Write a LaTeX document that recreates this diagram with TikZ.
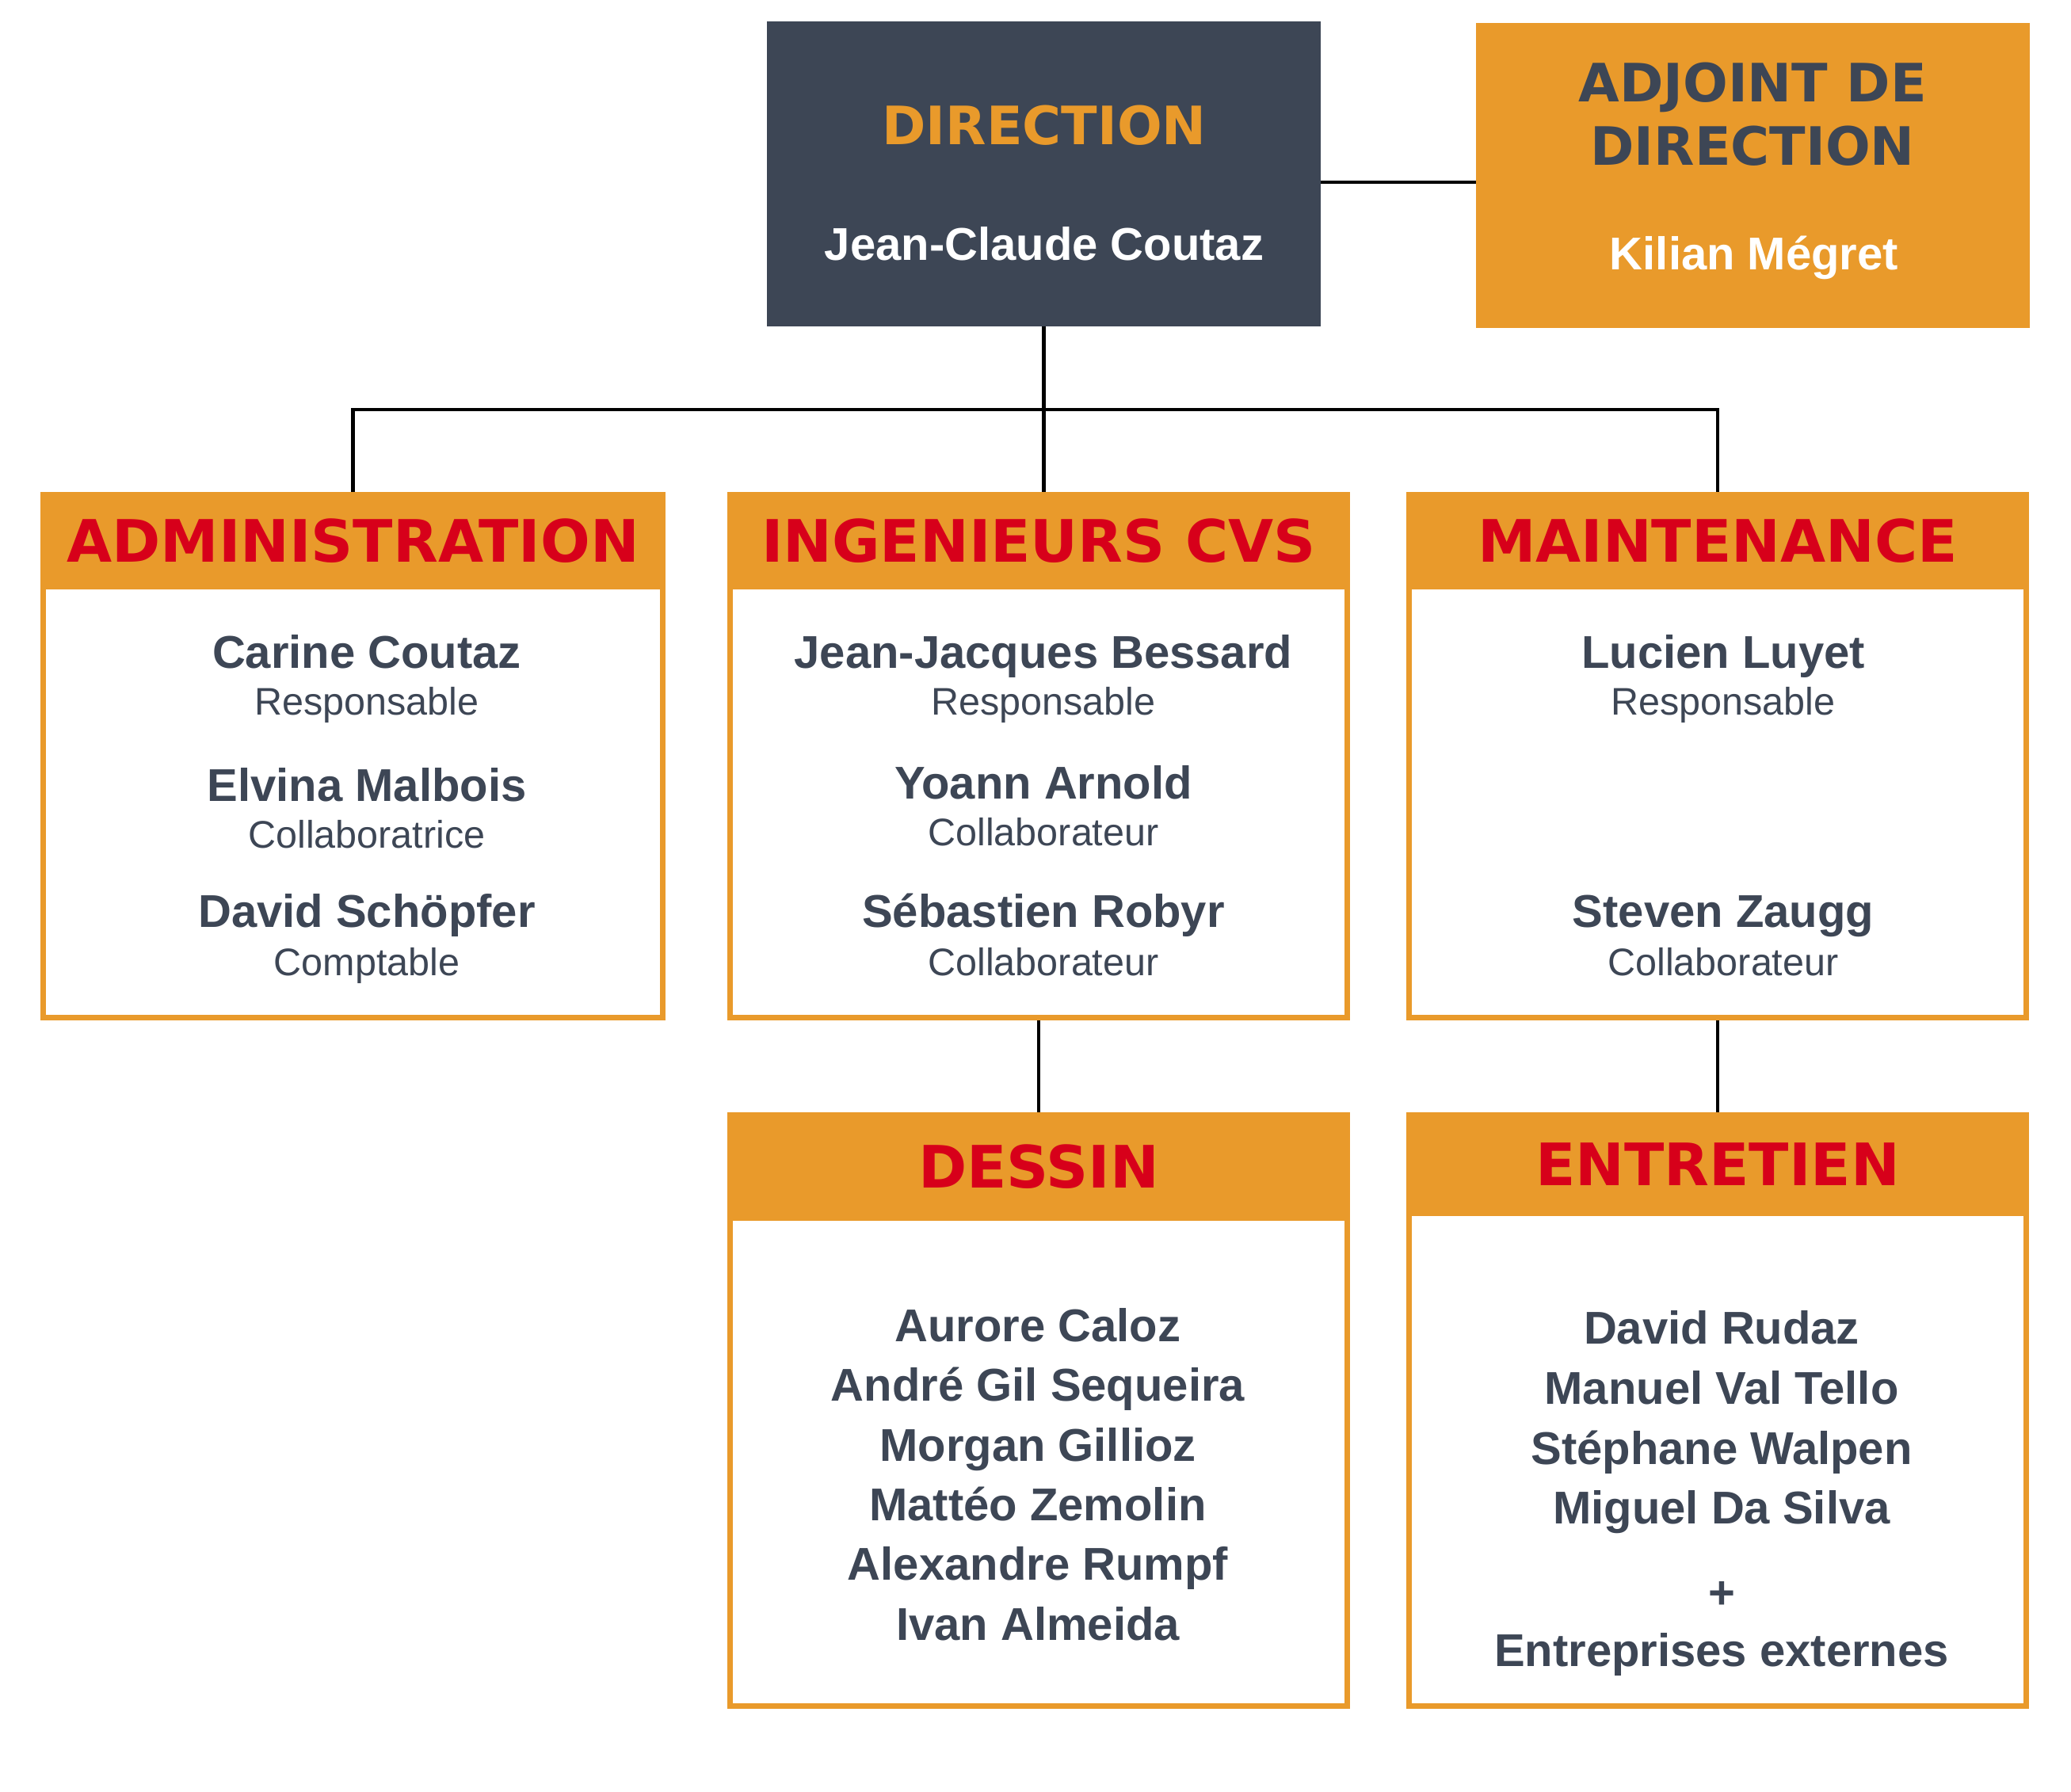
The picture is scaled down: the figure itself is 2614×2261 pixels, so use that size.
\documentclass[tikz,border=0pt]{standalone}
\usepackage{fontspec}
\setmainfont{Liberation Sans}
\newfontfamily\headfont{DejaVu Sans}
\usetikzlibrary{positioning}

\definecolor{slate}{HTML}{3D4655}
\definecolor{amber}{HTML}{E99A2B}
\definecolor{crimson}{HTML}{D7001A}

\tikzset{
  topbox/.style={inner sep=0pt, outer sep=0pt, minimum width=69.9mm, minimum height=38.5mm},
  unit/.style={draw=amber, line width=2pt, fill=white, inner sep=0pt},
  headbar/.style={fill=amber, inner sep=0pt, anchor=north, text=crimson,
    font=\headfont\bfseries\fontsize{21}{25}\selectfont},
  toptitle/.style={anchor=base, inner sep=0pt, font=\headfont\bfseries\fontsize{19}{23}\selectfont},
  person/.style={anchor=base, inner sep=0pt, text=slate, font=\bfseries\fontsize{16.5}{20}\selectfont},
  role/.style={anchor=base, inner sep=0pt, text=slate, font=\fontsize{13.8}{16}\selectfont},
  link/.style={line width=1.3pt, black},
}

\begin{document}
\begin{tikzpicture}[x=0.1mm, y=-0.1mm]
  \useasboundingbox (0,0) rectangle (2614,2261);

  % direction
  \node[topbox, fill=slate] (dir) at (1317.5,219.5) {};
  \node[toptitle, text=amber] (dirT) at (1318,182) {DIRECTION};
  \node[person, text=white] (dirN) at (1318,328) {Jean-Claude Coutaz};

  \node[topbox, fill=amber] (adj) at (2212.5,221.5) {};
  \node[toptitle, text=slate] (adjT1) at (2212,128) {ADJOINT DE};
  \node[toptitle, text=slate] (adjT2) at (2212,208) {DIRECTION};
  \node[person, text=white] (adjN) at (2214,340) {Kilian Mégret};

  % services
  \node[unit, minimum width=78.2mm, minimum height=66mm] (adm) at (445.5,954.5) {};
  \node[headbar, minimum width=78.9mm, minimum height=12.2mm] (admH) at (adm.north) {ADMINISTRATION};
  \node[unit, minimum width=77.9mm, minimum height=66mm] (ing) at (1311,954.5) {};
  \node[headbar, minimum width=78.6mm, minimum height=12.2mm] (ingH) at (ing.north) {INGENIEURS CVS};
  \node[unit, minimum width=77.9mm, minimum height=66mm] (mnt) at (2168,954.5) {};
  \node[headbar, minimum width=78.6mm, minimum height=12.2mm] (mntH) at (mnt.north) {MAINTENANCE};
  \node[unit, minimum width=77.9mm, minimum height=74.6mm] (des) at (1311,1780.5) {};
  \node[headbar, minimum width=78.6mm, minimum height=13.6mm] (desH) at (des.north) {DESSIN};
  \node[unit, minimum width=77.9mm, minimum height=74.6mm] (ent) at (2168,1780.5) {};
  \node[headbar, minimum width=78.6mm, minimum height=13mm] (entH) at (ent.north) {ENTRETIEN};

  % connectors
  \coordinate (bus) at (0,517);
  \draw[link] ([yshift=-1.05mm]dir.east) -- ([yshift=-1.05mm]dir.east -| adj.west);
  \draw[link] (dir.south) -- (dir.south |- ingH.north);
  \draw[link] (admH.north) -- (admH.north |- bus) -| (mntH.north);
  \draw[link] (ing.south) -- (desH.north);
  \draw[link] (mnt.south) -- (entH.north);

  % administration
  \node[person] (adm1) at (463,843) {Carine Coutaz};
  \node[role] (adm1r) at (463,902) {Responsable};
  \node[person] (adm2) at (463,1011) {Elvina Malbois};
  \node[role] (adm2r) at (463,1070) {Collaboratrice};
  \node[person] (adm3) at (463,1170) {David Schöpfer};
  \node[role] (adm3r) at (463,1231) {Comptable};

  % ingenieurs
  \node[person] (ing1) at (1317,843) {Jean-Jacques Bessard};
  \node[role] (ing1r) at (1317,902) {Responsable};
  \node[person] (ing2) at (1317,1008) {Yoann Arnold};
  \node[role] (ing2r) at (1317,1067) {Collaborateur};
  \node[person] (ing3) at (1317,1170) {Sébastien Robyr};
  \node[role] (ing3r) at (1317,1231) {Collaborateur};

  % maintenance
  \node[person] (mnt1) at (2175,843) {Lucien Luyet};
  \node[role] (mnt1r) at (2175,902) {Responsable};
  \node[person] (mnt2) at (2175,1170) {Steven Zaugg};
  \node[role] (mnt2r) at (2175,1231) {Collaborateur};

  % dessin
  \node[person] (des1) at (1310,1693) {Aurore Caloz};
  \node[person] (des2) at (1310,1768) {André Gil Sequeira};
  \node[person] (des3) at (1310,1844) {Morgan Gillioz};
  \node[person] (des4) at (1310,1919) {Mattéo Zemolin};
  \node[person] (des5) at (1310,1994) {Alexandre Rumpf};
  \node[person] (des6) at (1310,2070) {Ivan Almeida};

  % entretien
  \node[person] (ent1) at (2173,1696) {David Rudaz};
  \node[person] (ent2) at (2173,1772) {Manuel Val Tello};
  \node[person] (ent3) at (2173,1848) {Stéphane Walpen};
  \node[person] (ent4) at (2173,1923) {Miguel Da Silva};
  \node[person] (ent5) at (2173,2030) {+};
  \node[person] (ent6) at (2173,2103) {Entreprises externes};
\end{tikzpicture}
\end{document}
